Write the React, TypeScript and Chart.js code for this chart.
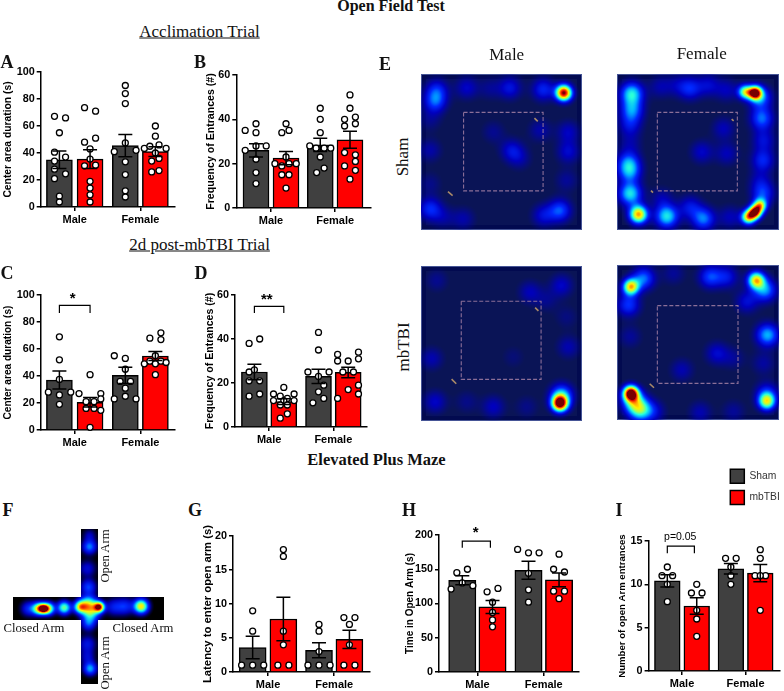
import React, { useEffect, useRef } from "react";
import { Chart, registerables } from "chart.js";

Chart.register(...registerables);

const SERIF = '"Liberation Serif", serif';
const SANS = '"Liberation Sans", sans-serif';

// ---------- data ----------
const groupLabels = ["Male", "Female"];
const barColors = ["#404040", "#ff0000", "#404040", "#ff0000"];
const legendNames = ["Sham", "mbTBI"];

type Pt = [number, number]; // [jitter in tenths of a bar step, value]

const aMeans = [35, 35.5, 45.5, 41];
const aErrors = [6.5, 7, 8.2, 3.6];
const aShamMale: Pt[] = [[-1.6, 67.2], [2, 66], [0, 55], [-1.6, 40.6], [2, 37], [-1.6, 34], [-1.6, 28], [-1.6, 21], [2, 24.6], [0, 8], [0, 3.7]];
const aTbiMale: Pt[] = [[-1.8, 73.6], [1.8, 71], [-1.8, 48], [1.8, 51], [0, 43], [0, 35.5], [-1.8, 30.5], [1.8, 31], [0, 19], [0, 14], [0, 9], [0, 3.7]];
const aShamFemale: Pt[] = [[0, 90], [0, 84], [0, 76.6], [-3.6, 41], [0, 47.5], [3.5, 42], [0, 33.5], [0, 24], [0, 12], [0, 7.4]];
const aTbiFemale: Pt[] = [[0, 60], [0, 52.5], [-3.6, 43.4], [-1.8, 45], [1.2, 46], [3.5, 43.4], [0, 40], [-1.2, 34], [1.2, 36], [-1.2, 26], [1.2, 27]];

const bMeans = [26, 22.5, 28.5, 30.8];
const bErrors = [3, 3, 3, 3.8];
const bShamMale: Pt[] = [[-3.6, 35], [0, 38], [0, 34], [0, 28], [-3.6, 26], [3.4, 28], [0, 22], [0, 16], [0, 11]];
const bTbiMale: Pt[] = [[0, 38], [1, 35], [-1.4, 34], [0, 23], [-3.7, 20], [-1.4, 19], [1, 20], [3.4, 20], [-1.4, 15], [1, 15], [0, 9]];
const bShamFemale: Pt[] = [[0, 45], [0, 40], [0, 34], [-3.5, 28], [-1.4, 27], [1.3, 27], [3.5, 27], [0, 23], [1.3, 18], [-1.2, 16]];
const bTbiFemale: Pt[] = [[0, 51], [0, 45], [-1.8, 40], [1.8, 41], [-1.8, 37], [1.8, 38], [-1.8, 25], [1.8, 24], [1.8, 21], [-1.8, 19], [1.8, 17], [0, 13]];

const cMeans = [37, 20.5, 40.5, 54.8];
const cErrors = [6.7, 3.5, 6, 3.4];
const cShamMale: Pt[] = [[0, 69], [0, 52], [0, 37.5], [-3.6, 28], [3.7, 28], [0, 26], [0, 19]];
const cTbiMale: Pt[] = [[0, 41], [-3.6, 27], [3.5, 27], [3.5, 23], [-1.3, 21], [1.3, 21], [-1.3, 16], [1.3, 16], [3.5, 14.6], [0, 2]];
const cShamFemale: Pt[] = [[-3.6, 55], [0, 53], [0, 45], [-1.7, 36], [1.7, 36], [0, 31], [-3.6, 23], [3.5, 23], [0, 25]];
const cTbiFemale: Pt[] = [[1.8, 72], [-1.8, 68], [1.8, 67], [0, 55], [-3.6, 49], [-1.8, 51], [0, 49], [1.8, 51], [3.5, 50], [0, 41]];

const dMeans = [25, 11.5, 23, 24.8];
const dErrors = [3.5, 1.3, 3.2, 2.4];
const dShamMale: Pt[] = [[-1.8, 38], [1.8, 40], [-1.8, 25], [0, 26], [-1.8, 21], [1.8, 21], [-1.8, 14], [1.8, 15]];
const dTbiMale: Pt[] = [[0, 18], [-3.5, 15], [3.5, 15], [-1.2, 14], [1.2, 13], [-3.5, 12], [0, 12], [3.5, 12], [-1.2, 10], [1.2, 10], [1.2, 6], [-1.2, 4]];
const dShamFemale: Pt[] = [[0, 43], [0, 35], [-3.6, 25], [3.6, 25], [0, 23], [1.8, 19], [0, 16], [1.8, 13], [-1.9, 11]];
const dTbiFemale: Pt[] = [[-3.6, 33], [3.5, 34], [3.5, 31], [-3.6, 30], [0, 30], [-1.8, 25], [1.8, 25], [3.5, 19], [0, 17], [3.5, 15], [-3.6, 13]];

const gMeans = [3.6, 7.8, 3.2, 4.8];
const gErrors = [1.65, 3.2, 1.1, 1.35];
const gShamMale: Pt[] = [[0, 9], [0, 6], [-3.6, 1], [0, 1], [3.6, 1]];
const gTbiMale: Pt[] = [[0, 18], [0, 17], [0, 6], [0, 4], [-1.8, 1], [1.8, 1]];
const gShamFemale: Pt[] = [[0, 7], [0, 6], [0, 3], [-3.6, 1], [0, 1], [3.6, 1]];
const gTbiFemale: Pt[] = [[-1.8, 8], [1.8, 8], [0, 7], [0, 4], [-1.8, 1], [1.8, 1]];

const hMeans = [134, 95, 148.5, 134.5];
const hErrors = [6.5, 9.5, 13, 10];
const hShamMale: Pt[] = [[1.7, 150], [-1.8, 145], [0, 130], [-3.7, 121], [3.5, 126]];
const hTbiMale: Pt[] = [[1.8, 122], [-1.8, 117], [0, 102], [0, 87], [0, 76], [0, 66]];
const hShamFemale: Pt[] = [[-3.6, 179], [0, 174], [3.5, 174], [0, 144], [0, 120], [0, 102]];
const hTbiFemale: Pt[] = [[0, 172], [-1.8, 150], [1.8, 146], [-1.8, 118], [1.8, 118], [0, 107]];

const iMeans = [10.4, 7.5, 11.8, 11.3];
const iErrors = [0.7, 0.95, 0.6, 1];
const iShamMale: Pt[] = [[0, 12], [-1.8, 11], [1.8, 11], [0, 10], [0, 8]];
const iTbiMale: Pt[] = [[0, 10], [-1.8, 9], [1.8, 9], [0, 7], [0, 6], [0, 4]];
const iShamFemale: Pt[] = [[-1.8, 13], [1.8, 13], [0, 12], [0, 11], [0, 10]];
const iTbiFemale: Pt[] = [[0, 14], [0, 13], [-1.8, 11], [1.8, 11], [0, 11], [0, 7]];

// heat spots: [x, y, intensity, spread]
type Spot = [number, number, number, number?];
const heatShamMale: Spot[] = [[552, 158, 1, 17], [490, 148, 0.24], [390, 143, 0.2], [260, 143, 0.16], [170, 150, 0.22], [165, 185, 0.27], [150, 330, 0.12], [565, 275, 0.15], [565, 335, 0.17], [395, 330, 0.18], [420, 355, 0.1], [340, 275, 0.09], [480, 270, 0.12], [150, 505, 0.25], [540, 510, 0.3], [490, 525, 0.18], [250, 535, 0.12], [330, 145, 0.09], [150, 240, 0.08], [150, 430, 0.08], [560, 420, 0.1], [190, 530, 0.1]];
const heatShamFemale: Spot[] = [[1125, 158, 0.95, 14], [1095, 155, 0.58, 15], [1140, 172, 0.34], [755, 160, 0.46], [755, 210, 0.33], [750, 255, 0.18], [930, 145, 0.24], [985, 135, 0.16], [840, 140, 0.12], [1145, 235, 0.32], [1150, 300, 0.18], [1148, 360, 0.24], [1030, 265, 0.14], [965, 335, 0.16], [1040, 340, 0.14], [745, 365, 0.28], [748, 395, 0.32], [750, 460, 0.46], [775, 522, 0.78, 19], [860, 528, 0.46], [970, 535, 0.34], [930, 500, 0.2], [845, 475, 0.12], [1105, 530, 0.72, 15], [1125, 515, 0.88, 14], [1140, 495, 0.6, 14], [1148, 460, 0.26], [1040, 150, 0.14], [890, 135, 0.1], [750, 310, 0.1], [1050, 530, 0.14], [1140, 420, 0.12]];
const heatTbiMale: Spot[] = [[540, 520, 1, 17], [545, 495, 0.4], [450, 185, 0.14], [545, 165, 0.16], [170, 150, 0.09], [155, 385, 0.13], [565, 350, 0.13], [165, 515, 0.16], [340, 530, 0.15], [400, 380, 0.06], [260, 515, 0.08], [500, 210, 0.08], [560, 260, 0.07], [440, 530, 0.08]];
const heatTbiFemale: Spot[] = [[752, 170, 0.72, 17], [790, 145, 0.33], [745, 225, 0.27], [1128, 150, 0.7, 18], [1155, 180, 0.36], [990, 140, 0.28], [1040, 140, 0.2], [1100, 215, 0.18], [1162, 315, 0.4], [1160, 515, 0.6, 18], [1160, 490, 0.22], [752, 490, 1, 16], [760, 515, 0.42], [780, 540, 0.46], [820, 545, 0.16], [960, 548, 0.13], [1010, 370, 0.17], [905, 420, 0.13], [1060, 385, 0.09], [750, 320, 0.1], [880, 130, 0.1], [1150, 400, 0.11], [1060, 545, 0.1]];
const heatMaze: Spot[] = [[115, 505, 0.62, 13], [145, 505, 0.62, 13], [130, 505, 0.72, 10], [192, 502, 0.56, 14], [240, 500, 0.6, 13], [265, 492, 0.55, 18], [297, 500, 0.9, 11], [272, 518, 0.42, 18], [265, 550, 0.26, 15], [375, 498, 0.24, 18], [423, 498, 0.72, 15], [268, 320, 0.34, 15], [268, 285, 0.14, 14], [265, 440, 0.28, 16], [262, 385, 0.18, 18], [270, 685, 0.38, 14], [262, 610, 0.2, 18], [262, 650, 0.16, 16], [340, 500, 0.2, 18], [85, 505, 0.24, 16]];
const mazeArmH = { xMin: 40, xMax: 493, yMin: 470, yMax: 540 };
const mazeArmV = { xMin: 242, xMax: 292, yMin: 268, yMax: 732 };

// ---------- layout ----------
const PAD_TOP = 16;
const PANELS = [
  { key: "A", left: 2, axisX: 40.7, right: 175, top: 71.7, bottom: 207, barW: 26, yMax: 100, step: 20, yTitle: "Center area duration (s)", titleSize: 10.3, pos: [0, 1, 2.15, 3.13], xMin: -0.61, xMax: 3.77, means: aMeans, errors: aErrors, points: [aShamMale, aTbiMale, aShamFemale, aTbiFemale] },
  { key: "B", left: 204.7, axisX: 236, right: 370.7, top: 75.3, bottom: 208.3, barW: 26, yMax: 60, step: 20, yTitle: "Frequency of Entrances (#)", titleSize: 10.6, pos: [0, 1, 2.14, 3.13], xMin: -0.656, xMax: 3.83, means: bMeans, errors: bErrors, points: [bShamMale, bTbiMale, bShamFemale, bTbiFemale] },
  { key: "C", left: 2, axisX: 40.7, right: 175, top: 295, bottom: 429.7, barW: 26, yMax: 100, step: 20, yTitle: "Center area duration (s)", titleSize: 10.1, pos: [0, 1, 2.15, 3.13], xMin: -0.61, xMax: 3.77, means: cMeans, errors: cErrors, points: [cShamMale, cTbiMale, cShamFemale, cTbiFemale], bracket: [0, 1, 86.6, 92.3], note: { x: 0.435, y: 97.5, text: "*", bold: true, size: 15 } },
  { key: "D", left: 204, axisX: 235, right: 366.7, top: 295, bottom: 427, barW: 26, yMax: 60, step: 20, yTitle: "Frequency of Entrances (#)", titleSize: 10.6, pos: [0, 1, 2.18, 3.19], xMin: -0.66, xMax: 3.83, means: dMeans, errors: dErrors, points: [dShamMale, dTbiMale, dShamFemale, dTbiFemale], bracket: [0, 1, 51.8, 54.8], note: { x: 0.42, y: 58, text: "**", bold: true, size: 15 } },
  { key: "G", left: 200.7, axisX: 232.7, right: 369.3, top: 536, bottom: 672.3, barW: 27, yMax: 20, step: 5, yTitle: "Latency to enter open arm (s)", titleSize: 11.3, pos: [0, 1, 2.16, 3.15], xMin: -0.64, xMax: 3.82, means: gMeans, errors: gErrors, points: [gShamMale, gTbiMale, gShamFemale, gTbiFemale] },
  { key: "H", left: 404, axisX: 439, right: 579.3, top: 535.3, bottom: 672.3, barW: 27.3, yMax: 200, step: 50, yTitle: "Time in Open Arm (s)", titleSize: 10, pos: [0, 1, 2.19, 3.2], xMin: -0.77, xMax: 3.86, means: hMeans, errors: hErrors, points: [hShamMale, hTbiMale, hShamFemale, hTbiFemale], bracket: [0, 0.93, 181.5, 191], note: { x: 0.44, y: 203, text: "*", bold: true, size: 15 } },
  { key: "I", left: 616.7, axisX: 648.3, right: 779.3, top: 540.7, bottom: 671, barW: 25.7, yMax: 15, step: 5, yTitle: "Number of open Arm entrances", titleSize: 9.6, pos: [0, 1, 2.16, 3.16], xMin: -0.636, xMax: 3.83, means: iMeans, errors: iErrors, points: [iShamMale, iTbiMale, iShamFemale, iTbiFemale], bracket: [0, 0.92, 13.6, 14.4], note: { x: 0.44, y: 15.45, text: "p=0.05", bold: false, size: 10.5 } },
];

const HEATMAPS = [
  { key: "hsm", left: 421.3, top: 74.3, w: 161.4, h: 155.7, xr: [124, 608], yr: [103, 570], spots: heatShamMale, box: [252, 491, 218, 453], specks: [[[205, 455], [219, 467]], [[465, 235], [475, 245]]] },
  { key: "hsf", left: 617.3, top: 74.3, w: 162, h: 155.7, xr: [712, 1198], yr: [103, 570], spots: heatShamFemale, box: [833, 1073, 218, 453], specks: [[[814, 452], [820, 458]], [[1056, 238], [1062, 243]]] },
  { key: "htm", left: 421.3, top: 266, w: 161.4, h: 155.3, xr: [124, 608], yr: [108, 574], spots: heatTbiMale, box: [245, 485, 214, 449], specks: [[[216, 448], [230, 462]], [[467, 233], [477, 243]]] },
  { key: "htf", left: 617.3, top: 265.3, w: 162, h: 155.4, xr: [712, 1198], yr: [106, 572], spots: heatTbiFemale, box: [833, 1075, 228, 462], specks: [[[810, 463], [823, 475]]] },
];

const LABELS: { t: string; x: number; y: number; size: number; bold?: boolean; rot?: boolean }[] = [
  { t: "Open Field Test", x: 391, y: 6, size: 16, bold: true },
  { t: "Acclimation Trial", x: 199.5, y: 31, size: 17 },
  { t: "2d post-mbTBI Trial", x: 199.5, y: 244, size: 17 },
  { t: "Elevated Plus Maze", x: 376.5, y: 460, size: 16.5, bold: true },
  { t: "A", x: 7, y: 62, size: 18, bold: true },
  { t: "B", x: 200, y: 62, size: 18, bold: true },
  { t: "C", x: 7, y: 273, size: 18, bold: true },
  { t: "D", x: 201, y: 273, size: 18, bold: true },
  { t: "E", x: 385, y: 64, size: 18, bold: true },
  { t: "F", x: 8, y: 510, size: 18, bold: true },
  { t: "G", x: 195, y: 510, size: 18, bold: true },
  { t: "H", x: 409, y: 510, size: 18, bold: true },
  { t: "I", x: 619, y: 510, size: 18, bold: true },
  { t: "Male", x: 506.7, y: 54, size: 17 },
  { t: "Female", x: 701.7, y: 53, size: 17 },
  { t: "Sham", x: 402, y: 157, size: 17, rot: true },
  { t: "mbTBI", x: 403, y: 347, size: 17, rot: true },
  { t: "Closed Arm", x: 34, y: 628, size: 12.7 },
  { t: "Closed Arm", x: 143, y: 628, size: 12.7 },
  { t: "Open Arm", x: 105, y: 556, size: 12.7, rot: true },
  { t: "Open Arm", x: 105, y: 663, size: 12.7, rot: true },
];

// ---------- plugins ----------
const panelExtras = {
  id: "panelExtras",
  afterDatasetsDraw(chart: any) {
    const cfg = chart.options.plugins.panelExtras;
    if (!cfg || !cfg.means) return;
    const { ctx } = chart;
    const xs = chart.scales.x;
    const ys = chart.scales.y;
    ctx.save();
    ctx.strokeStyle = "#000";
    ctx.lineWidth = 1.5;
    cfg.means.forEach((m: number, i: number) => {
      const px = xs.getPixelForValue(cfg.pos[i]);
      const hi = ys.getPixelForValue(m + cfg.errors[i]);
      const lo = ys.getPixelForValue(m - cfg.errors[i]);
      ctx.beginPath();
      ctx.moveTo(px, hi);
      ctx.lineTo(px, lo);
      ctx.moveTo(px - 7, hi);
      ctx.lineTo(px + 7, hi);
      ctx.moveTo(px - 7, lo);
      ctx.lineTo(px + 7, lo);
      ctx.stroke();
    });
    if (cfg.note) {
      const n = cfg.note;
      ctx.fillStyle = "#000";
      ctx.textAlign = "center";
      ctx.textBaseline = "middle";
      ctx.font = `${n.bold ? "bold " : ""}${n.size}px ${SANS}`;
      ctx.fillText(n.text, xs.getPixelForValue(n.x), ys.getPixelForValue(n.y));
    }
    ctx.restore();
  },
};

const STOPS: [number, number, number, number][] = [
  [0.02, 0, 0, 0], // replaced by the base colour
  [0.15, 0, 0, 190],
  [0.27, 0, 40, 255],
  [0.4, 0, 180, 255],
  [0.5, 40, 255, 220],
  [0.62, 170, 255, 80],
  [0.72, 255, 240, 0],
  [0.85, 255, 90, 0],
  [0.95, 220, 0, 0],
  [1, 120, 0, 0],
];

function ramp(v: number, base: number[]) {
  if (v <= STOPS[0][0]) return base;
  for (let i = 1; i < STOPS.length; i++) {
    if (v <= STOPS[i][0]) {
      const a = STOPS[i - 1];
      const b = STOPS[i];
      const t = (v - a[0]) / (b[0] - a[0]);
      const ca = i === 1 ? base : [a[1], a[2], a[3]];
      return [ca[0] + (b[1] - ca[0]) * t, ca[1] + (b[2] - ca[1]) * t, ca[2] + (b[3] - ca[2]) * t];
    }
  }
  return [120, 0, 0];
}

const heatLayer = {
  id: "heatLayer",
  beforeDatasetsDraw(chart: any) {
    const cfg = chart.options.plugins.heatLayer;
    if (!cfg || !cfg.on) return;
    const { ctx, width, height } = chart;
    const xs = chart.scales.x;
    const ys = chart.scales.y;
    const data: Spot[] = chart.data.datasets[0].data.map((d: any) => d.spot);
    const sx = Math.abs(xs.getPixelForValue(1) - xs.getPixelForValue(0));
    const blobs = data.map((s) => ({
      x: xs.getPixelForValue(s[0]),
      y: ys.getPixelForValue(s[1]),
      a: s[2],
      s: (s[3] ?? 24) * sx,
    }));
    const img = ctx.createImageData(width, height);
    const masks = (cfg.masks || []).map((m: any) => [
      xs.getPixelForValue(m.xMin), xs.getPixelForValue(m.xMax),
      ys.getPixelForValue(m.yMin), ys.getPixelForValue(m.yMax),
    ]);
    for (let py = 0; py < height; py++) {
      for (let px = 0; px < width; px++) {
        const k = (py * width + px) * 4;
        if (masks.length && !masks.some((m: number[]) => px >= m[0] && px <= m[1] && py >= m[2] && py <= m[3])) continue;
        let v = 0;
        for (const b of blobs) {
          const dx = px - b.x;
          const dy = py - b.y;
          v += b.a * Math.exp(-(dx * dx + dy * dy) / (2 * b.s * b.s));
        }
        const edge = Math.min(px, py, width - 1 - px, height - 1 - py);
        let base = cfg.base;
        if (!masks.length) {
          if (edge < 1) base = [70, 85, 150];
          else if (edge < 5) base = [2, 10, 80];
        }
        const c = ramp(v, base);
        img.data[k] = c[0];
        img.data[k + 1] = c[1];
        img.data[k + 2] = c[2];
        img.data[k + 3] = 255;
      }
    }
    ctx.putImageData(img, 0, 0);
  },
};

Chart.register(panelExtras, heatLayer);

// ---------- chart builders ----------
function barConfig(p: any) {
  const pointData = p.points.flatMap((list: Pt[], i: number) =>
    list.map(([off, v]) => ({ x: p.pos[i] + off / 10, y: v }))
  );
  const datasets: any[] = [
    {
      type: "bar",
      data: p.means.map((m: number, i: number) => ({ x: p.pos[i], y: m })),
      backgroundColor: barColors,
      borderColor: "#000",
      borderWidth: 1.5,
      barThickness: p.barW,
      order: 3,
    },
    {
      type: "scatter",
      data: pointData,
      backgroundColor: "#fff",
      borderColor: "#000",
      borderWidth: 1.3,
      pointRadius: 3,
      clip: false,
      order: 2,
    },
  ];
  if (p.bracket) {
    const [x1, x2, y1, y2] = p.bracket;
    datasets.push({
      type: "scatter",
      showLine: true,
      data: [{ x: x1, y: y1 }, { x: x1, y: y2 }, { x: x2, y: y2 }, { x: x2, y: y1 }],
      borderColor: "#000",
      borderWidth: 1.2,
      pointRadius: 0,
      order: 1,
    });
  }
  const mid = [(p.pos[0] + p.pos[1]) / 2, (p.pos[2] + p.pos[3]) / 2];
  return {
    type: "bar",
    data: { datasets },
    options: {
      responsive: false,
      animation: false,
      events: [],
      layout: { padding: { top: PAD_TOP, right: 8, left: 0, bottom: 0 } },
      plugins: {
        legend: { display: false },
        tooltip: { enabled: false },
        panelExtras: { means: p.means, errors: p.errors, pos: p.pos, note: p.note },
      },
      scales: {
        x: {
          type: "linear",
          offset: false,
          min: p.xMin,
          max: p.xMax,
          grid: { offset: false, drawOnChartArea: false, color: "#000", lineWidth: 1.5, tickLength: 4, tickColor: "#000" },
          border: { color: "#000", width: 1.5 },
          afterBuildTicks: (s: any) => {
            s.ticks = mid.map((value) => ({ value }));
          },
          afterFit: (s: any) => {
            s.height = 22;
          },
          ticks: {
            autoSkip: false,
            maxRotation: 0,
            padding: 2,
            color: "#000",
            font: { family: SANS, size: 11, weight: "bold" },
            callback: (_v: any, i: number) => groupLabels[i],
          },
        },
        y: {
          min: 0,
          max: p.yMax,
          grid: { drawOnChartArea: false, color: "#000", lineWidth: 1.5, tickLength: 4, tickColor: "#000" },
          border: { color: "#000", width: 1.5 },
          afterFit: (s: any) => {
            s.width = p.axisX - p.left;
          },
          ticks: {
            stepSize: p.step,
            padding: 2,
            color: "#000",
            font: { family: SANS, size: 10.8, weight: "bold" },
          },
          title: {
            display: true,
            text: p.yTitle,
            color: "#000",
            padding: 0,
            font: { family: SANS, size: p.titleSize, weight: "bold" },
          },
        },
      },
    },
  };
}

function heatConfig(h: any) {
  const [x1, x2, y1, y2] = h.box;
  const datasets: any[] = [
    {
      data: h.spots.map((s: Spot) => ({ x: s[0], y: s[1], spot: s })),
      pointRadius: 0,
    },
    {
      showLine: true,
      data: [{ x: x1, y: y1 }, { x: x2, y: y1 }, { x: x2, y: y2 }, { x: x1, y: y2 }, { x: x1, y: y1 }],
      borderColor: "#8c6f98",
      borderWidth: 1.1,
      borderDash: [4, 2],
      pointRadius: 0,
    },
    ...h.specks.map((sp: number[][]) => ({
      showLine: true,
      data: sp.map(([x, y]) => ({ x, y })),
      borderColor: "#a98a68",
      borderWidth: 1.6,
      pointRadius: 0,
    })),
  ];
  return heatBase(h, datasets, { on: true, base: [10, 20, 86] });
}

function heatBase(h: any, datasets: any[], layer: any) {
  return {
    type: "scatter",
    data: { datasets },
    options: {
      responsive: false,
      animation: false,
      events: [],
      layout: { padding: 0 },
      plugins: { legend: { display: false }, tooltip: { enabled: false }, heatLayer: layer },
      scales: {
        x: { display: false, min: h.xr[0], max: h.xr[1] },
        y: { display: false, min: h.yr[0], max: h.yr[1], reverse: true },
      },
    },
  };
}

const MAZE = { left: 13.3, top: 529.3, w: 151, h: 154.7, xr: [40, 493], yr: [268, 732], spots: heatMaze };

function mazeConfig() {
  return heatBase(
    MAZE,
    [{ data: MAZE.spots.map((s) => ({ x: s[0], y: s[1], spot: s })), pointRadius: 0 }],
    { on: true, base: [0, 0, 0], masks: [mazeArmH, mazeArmV] }
  );
}

function legendConfig() {
  return {
    type: "bar",
    data: {
      labels: [],
      datasets: legendNames.map((n, i) => ({
        label: n,
        data: [],
        backgroundColor: barColors[i],
        borderColor: "#000",
        borderWidth: 1.5,
      })),
    },
    options: {
      responsive: false,
      animation: false,
      events: [],
      layout: { padding: 0 },
      scales: { x: { display: false }, y: { display: false } },
      plugins: {
        tooltip: { enabled: false },
        legend: {
          display: true,
          position: "left",
          align: "start",
          labels: {
            boxWidth: 14,
            boxHeight: 14,
            padding: 7.3,
            color: "#333",
            font: { family: SANS, size: 10.3 },
          },
        },
      },
    },
  };
}

function Plot({ make, left, top, width, height }: any) {
  const ref = useRef<HTMLCanvasElement>(null);
  useEffect(() => {
    const chart = new Chart(ref.current as any, make() as any);
    return () => chart.destroy();
  }, []);
  return (
    <canvas
      ref={ref}
      width={Math.round(width)}
      height={Math.round(height)}
      style={{ position: "absolute", left, top, width: Math.round(width), height: Math.round(height) }}
    />
  );
}

export default function App() {
  return (
    <div style={{ position: "absolute", left: 0, top: 0, width: 784, height: 691, overflow: "hidden", background: "#fff" }}>
      {PANELS.map((p) => (
        <Plot
          key={p.key}
          make={() => barConfig(p)}
          left={p.left}
          top={p.top - PAD_TOP}
          width={p.right - p.left + 8}
          height={p.bottom - p.top + PAD_TOP + 22}
        />
      ))}
      {HEATMAPS.map((h) => (
        <Plot key={h.key} make={() => heatConfig(h)} left={h.left} top={h.top} width={h.w} height={h.h} />
      ))}
      <Plot make={mazeConfig} left={MAZE.left} top={MAZE.top} width={MAZE.w} height={MAZE.h} />
      <Plot make={legendConfig} left={723} top={462} width={130} height={60} />
      {LABELS.map((l, i) => (
        <div
          key={i}
          style={{
            position: "absolute",
            left: l.x,
            top: l.y,
            transform: `translate(-50%, -50%)${l.rot ? " rotate(-90deg)" : ""}`,
            fontFamily: SERIF,
            fontSize: l.size,
            fontWeight: l.bold ? "bold" : "normal",
            textDecoration: l.t.includes("Trial") ? "underline" : "none",
            whiteSpace: "nowrap",
            color: "#111",
            lineHeight: 1,
          }}
        >
          {l.t}
        </div>
      ))}
    </div>
  );
}
